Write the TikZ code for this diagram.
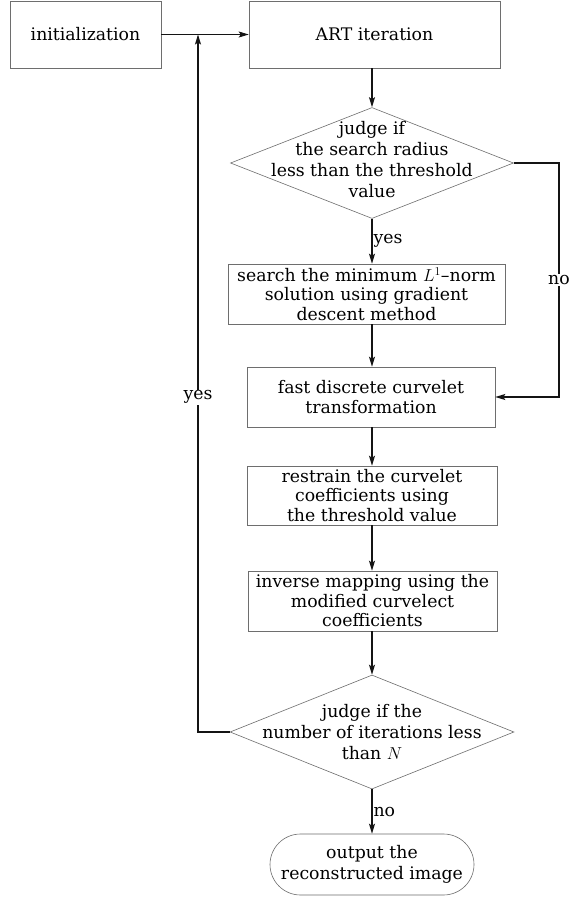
\documentclass[tikz,border=0pt]{standalone}
\usepackage{tikz}
\usepackage{fontspec}
\setmainfont{DejaVu Serif}
\usetikzlibrary{shapes.geometric,shapes.misc,arrows.meta}
\definecolor{edge}{RGB}{110,110,110}
\definecolor{ink}{RGB}{20,20,20}

\begin{document}
\begin{tikzpicture}[x=1pt, y=-1pt,
    box/.style={draw=edge, line width=0.6pt, inner sep=0pt, align=center,
                font=\fontsize{17.3}{19.5}\selectfont},
    decision/.style={diamond, draw=edge, line width=0.6pt, inner sep=0pt},
    dtext/.style={align=center, font=\fontsize{17.3}{21}\selectfont},
    finish/.style={rounded rectangle, draw=edge, line width=0.6pt, inner sep=0pt,
                   align=center, font=\fontsize{17.3}{21}\selectfont},
    flow/.style={draw=ink, line width=1.1pt, -{Stealth[length=10pt,width=6pt,inset=2pt]}},
    tag/.style={fill=white, inner sep=1pt, font=\fontsize{17.3}{21}\selectfont}]
  \useasboundingbox (0,0) rectangle (583,898);
  \fill[white] (0,0) rectangle (583,898);

  % boxes
  \node[box, minimum width=151pt, minimum height=67pt] (init) at (85.5,34.5) {initialization};
  \node[box, minimum width=251pt, minimum height=67pt] (art) at (374.5,34.5) {ART iteration};
  \node[decision, minimum width=283pt, minimum height=111pt] (judge1) at (372,163) {};
  \node[dtext] (judge1txt) at (372,160) {judge if\\the search radius\\less than the threshold\\value};
  \node[box, minimum width=277pt, minimum height=60pt] (search) at (366.5,294)
    {search the minimum $L^1$--norm\\solution using gradient\\descent method};
  \node[box, minimum width=248pt, minimum height=60pt] (fast) at (371,397)
    {fast discrete curvelet\\transformation};
  \node[box, minimum width=250pt, minimum height=59pt] (restrain) at (372,495.5)
    {restrain the curvelet\\coefficients using\\the threshold value};
  \node[box, minimum width=249pt, minimum height=60pt] (inverse) at (372.5,601)
    {inverse mapping using the\\modified curvelect\\coefficients};
  \node[decision, minimum width=284pt, minimum height=114pt] (judge2) at (372,732) {};
  \node[dtext] (judge2txt) at (372,732) {judge if the\\number of iterations less\\than $N$};
  \node[finish, minimum width=204pt, minimum height=61pt] (output) at (372,864.5)
    {output the\\reconstructed image};

  % connectors
  \coordinate (join) at (198,34.5);
  \coordinate (noturn) at (559,163);
  \draw[flow] (init.east) -- (art.west);
  \draw[flow] (art.south -| judge1.north) -- (judge1.north);
  \draw[flow] (judge1.south) -- (judge1.south |- search.north)
    node[tag, midway, anchor=west] (yes1) {yes};
  \draw[flow] (judge1.south |- search.south) -- (judge1.south |- fast.north);
  \draw[flow] (judge1.east) -- (noturn) -- (noturn |- fast.east)
    node[tag, pos=0.5] (no1) {no} -- (fast.east);
  \draw[flow] (fast.south -| judge1.south) -- (restrain.north -| judge1.south);
  \draw[flow] (restrain.south -| judge1.south) -- (inverse.north -| judge1.south);
  \draw[flow] (inverse.south -| judge1.south) -- (judge2.north);
  \draw[flow] (judge2.west) -- (judge2.west -| join) -- (join)
    node[tag, pos=0.48] (yes2) {yes};
  \draw[flow] (judge2.south) -- (output.north)
    node[tag, midway, anchor=west] (no2) {no};
\end{tikzpicture}
\end{document}
